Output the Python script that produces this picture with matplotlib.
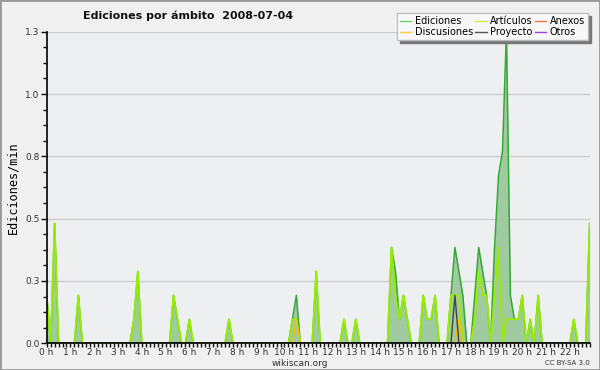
import matplotlib
matplotlib.use("Agg")
import matplotlib.pyplot as plt
from matplotlib.ticker import MultipleLocator, FixedLocator, FuncFormatter
from matplotlib.patches import Rectangle
import numpy as np

# edits per minute, 10-minute buckets from 0:00 to 22:50 (one row per hour)
ediciones = [
    0.2, 0, 0.5, 0, 0, 0,
    0, 0, 0.2, 0, 0, 0,
    0, 0, 0, 0, 0, 0,
    0, 0, 0, 0, 0.1, 0.3,
    0, 0, 0, 0, 0, 0,
    0, 0, 0.2, 0.1, 0, 0,
    0.1, 0, 0, 0, 0, 0,
    0, 0, 0, 0, 0.1, 0,
    0, 0, 0, 0, 0, 0,
    0, 0, 0, 0, 0, 0,
    0, 0, 0.1, 0.2, 0, 0,
    0, 0, 0.3, 0, 0, 0,
    0, 0, 0, 0.1, 0, 0,
    0.1, 0, 0, 0, 0, 0,
    0, 0, 0, 0.4, 0.3, 0.1,
    0.2, 0.1, 0, 0, 0, 0.2,
    0.1, 0.1, 0.2, 0, 0, 0,
    0.2, 0.4, 0.3, 0.2, 0, 0,
    0.2, 0.4, 0.3, 0.2, 0, 0.4,
    0.7, 0.8, 1.3, 0.2, 0.1, 0.1,
    0.2, 0, 0.1, 0, 0.2, 0,
    0, 0, 0, 0, 0, 0,
    0, 0.1, 0, 0, 0, 0.5,
]
articulos = [
    0.2, 0, 0.5, 0, 0, 0,
    0, 0, 0.2, 0, 0, 0,
    0, 0, 0, 0, 0, 0,
    0, 0, 0, 0, 0.1, 0.3,
    0, 0, 0, 0, 0, 0,
    0, 0, 0.2, 0.1, 0, 0,
    0.1, 0, 0, 0, 0, 0,
    0, 0, 0, 0, 0.1, 0,
    0, 0, 0, 0, 0, 0,
    0, 0, 0, 0, 0, 0,
    0, 0, 0.1, 0.1, 0, 0,
    0, 0, 0.3, 0, 0, 0,
    0, 0, 0, 0.1, 0, 0,
    0.1, 0, 0, 0, 0, 0,
    0, 0, 0, 0.4, 0.2, 0.1,
    0.2, 0.1, 0, 0, 0, 0.2,
    0.1, 0.1, 0.2, 0, 0, 0,
    0.2, 0.2, 0.2, 0, 0, 0,
    0.1, 0.3, 0.2, 0.2, 0, 0.2,
    0.4, 0, 0.1, 0.1, 0.1, 0.1,
    0.2, 0, 0.1, 0, 0.2, 0,
    0, 0, 0, 0, 0, 0,
    0, 0.1, 0, 0, 0, 0.5,
]
n = len(ediciones)
discusiones = [0.0] * n
discusiones[63] = 0.1
discusiones[104] = 0.1
proyecto = [0.0] * n
proyecto[103] = 0.2
anexos = [0.0] * n
otros = [0.0] * n

hours = np.arange(n) / 6.0
hour_labels = ["{} h".format(h) for h in range(23)]

fig = plt.figure(figsize=(6, 3.7), dpi=100, facecolor="#f0f0f0")
ax = fig.add_axes([0.0778, 0.0722, 0.905, 0.8421])
ax.set_facecolor("#eeeff1")

ax.fill_between(hours, ediciones, color="#9cc89c", alpha=0.95, lw=0, zorder=2)
ax.plot(hours, otros, color="#9944dd", lw=1, zorder=1)
ax.plot(hours, anexos, color="#ee7744", lw=1, zorder=1)
ax.plot(hours, ediciones, color="#33aa33", lw=1.1, zorder=3)
ax.plot(hours, articulos, color="#99ee00", lw=1.3, zorder=4)
ax.plot(hours, discusiones, color="#ffbb00", lw=1, zorder=5)
ax.plot(hours, proyecto, color="#444444", lw=1, zorder=5)

ax.set_xlim(0, hours[-1])
ax.set_ylim(0, 1.3)
yt = [0, 0.26, 0.52, 0.78, 1.04, 1.3]
ax.yaxis.set_major_locator(FixedLocator(yt))
ax.yaxis.set_major_formatter(FuncFormatter(lambda v, p: "%.1f" % v))
ax.yaxis.set_minor_locator(MultipleLocator(0.065))
ax.set_xticks(range(23))
ax.set_xticklabels(hour_labels)
ax.xaxis.set_minor_locator(MultipleLocator(1 / 6.0))
ax.tick_params(axis="both", which="major", labelsize=6.5, colors="#111", labelcolor="#333", length=4, width=1)
ax.tick_params(axis="both", which="minor", length=3, width=1, colors="#111")
ax.tick_params(axis="x", which="both", length=3, pad=0.5)
ax.tick_params(axis="y", pad=1)

ax.grid(axis="y", which="major", color="#cccccc", lw=1)
ax.set_axisbelow(True)
for s in ["top", "right"]:
    ax.spines[s].set_visible(False)
ax.spines["left"].set_linewidth(1.2)
ax.spines["bottom"].set_linewidth(1.2)
ax.spines["left"].set_zorder(6)
ax.spines["bottom"].set_zorder(6)

ax.set_ylabel("Ediciones/min", fontsize=8.5, family="DejaVu Sans Mono", labelpad=4)

fig.text(0.313, 0.958, "Ediciones por ámbito  2008-07-04", fontsize=8, fontweight="bold",
         ha="center", va="center", color="#111")
fig.text(0.5, 0.018, "wikiscan.org", fontsize=6.5, ha="center", va="center", color="#333")
fig.text(0.983, 0.02, "CC BY-SA 3.0", fontsize=5, ha="right", va="center", color="#333")

handles = [
    plt.Line2D([], [], color="#77cc77", lw=1),
    plt.Line2D([], [], color="#ffcc44", lw=1),
    plt.Line2D([], [], color="#ccee44", lw=1),
    plt.Line2D([], [], color="#555555", lw=1),
    plt.Line2D([], [], color="#ee7744", lw=1),
    plt.Line2D([], [], color="#9944dd", lw=1),
]
labels = ["Ediciones", "Discusiones", "Artículos", "Proyecto", "Anexos", "Otros"]
leg = fig.legend(handles, labels, ncol=3, loc="upper right", bbox_to_anchor=(0.988, 0.978),
                 fontsize=7, frameon=True, fancybox=False, shadow={"color": "#777777", "alpha": 1},
                 handlelength=1.2, handletextpad=0.35, columnspacing=0.2, labelspacing=0.15,
                 borderpad=0.3, edgecolor="#bbbbbb", framealpha=0.95)
leg.get_frame().set_linewidth(1)

fig.patches.append(Rectangle((0, 0), 1, 1, transform=fig.transFigure, fill=False,
                             edgecolor="#999999", lw=2))

plt.savefig("out.png", dpi=100, facecolor=fig.get_facecolor())
plt.close()
